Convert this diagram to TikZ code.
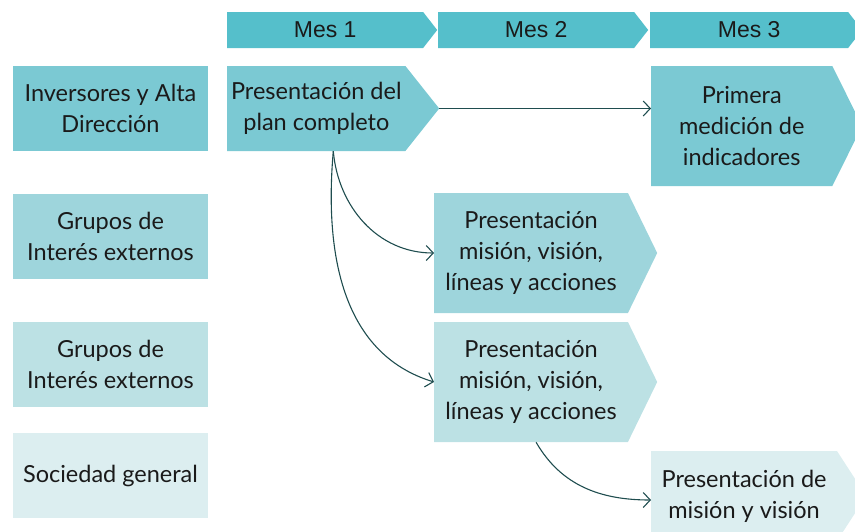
\documentclass[tikz,border=0pt]{standalone}
\usepackage{fontspec}
\setmainfont{Lato}
\newfontfamily\headfont{Liberation Sans}
\usetikzlibrary{arrows.meta, shapes.symbols}

\definecolor{head}{HTML}{55BFCB}
\definecolor{rowa}{HTML}{7BC9D3}
\definecolor{rowb}{HTML}{9ED5DC}
\definecolor{rowc}{HTML}{BCE1E4}
\definecolor{rowd}{HTML}{DCEEF0}
\definecolor{line}{HTML}{1F4D4F}
\definecolor{ink}{HTML}{1A1A1A}

\begin{document}
\begin{tikzpicture}[x=1pt, y=-1pt]
\useasboundingbox (0,0) rectangle (855,531);
\clip (0,0) rectangle (855,531);

\begin{scope}[every node/.style={inner sep=0pt, text=ink, align=center,
                                 font=\fontsize{23.5}{31}\selectfont}]
    % months
    \node (m1) at (227, 30) [anchor=west, shape=signal, signal to=east, signal pointer angle=104,
        fill=head, minimum width=210, minimum height=36, font=\headfont\fontsize{23}{25}\selectfont] {Mes 1};
    \node (m2) at (438, 30) [anchor=west, shape=signal, signal to=east, signal pointer angle=104,
        fill=head, minimum width=210, minimum height=36, font=\headfont\fontsize{23}{25}\selectfont] {Mes 2};
    \node (m3) at (650, 30) [anchor=west, shape=signal, signal to=east, signal pointer angle=104,
        fill=head, minimum width=212, minimum height=36, font=\headfont\fontsize{23}{25}\selectfont] {Mes 3};

    % groups
    \node (inv) at (110.5, 108.5) [shape=rectangle, fill=rowa, minimum width=195, minimum height=85] {Inversores y Alta\\Dirección};
    \node (ext1) at (110.5, 236.5) [shape=rectangle, fill=rowb, minimum width=195, minimum height=85] {Grupos de\\Interés externos};
    \node (ext2) at (110.5, 364.5) [shape=rectangle, fill=rowc, minimum width=195, minimum height=85] {Grupos de\\Interés externos};
    \node (soc) at (110.5, 475.5) [shape=rectangle, fill=rowd, minimum width=195, minimum height=85] {Sociedad general};

    % actions
    \node (plan) at (227, 108.5) [anchor=west, shape=signal, signal to=east, signal pointer angle=103,
        fill=rowa, minimum width=212, minimum height=85] {Presentación del\\plan completo};
    \node (prim) at (651, 126) [anchor=west, shape=signal, signal to=east, signal pointer angle=127,
        fill=rowa, minimum width=211, minimum height=120] {Primera\\medición de\\indicadores};
    \node (mis1) at (434, 253) [anchor=west, shape=signal, signal to=east, signal pointer angle=128,
        fill=rowb, minimum width=223, minimum height=120] {Presentación\\misión, visión,\\líneas y acciones};
    \node (mis2) at (434, 382) [anchor=west, shape=signal, signal to=east, signal pointer angle=128,
        fill=rowc, minimum width=223, minimum height=120] {Presentación\\misión, visión,\\líneas y acciones};
    \node (mis3) at (651, 496) [anchor=west, shape=signal, signal to=east, signal pointer angle=114,
        fill=rowd, minimum width=215, minimum height=90] {Presentación de\\misión y visión};
\end{scope}

\begin{scope}[>={Straight Barb[length=7pt, width=15pt]},
              every path/.style={draw=line, line width=1.1pt}]
    \draw [->] (plan.east) -- (plan.east -| prim.west);
    \draw [->] ([xshift=17pt]plan.south) to[out=-85, in=180] (mis1.west);
    \draw [->] ([xshift=17pt]plan.south) to[out=-95, in=163] (mis2.west);
    \draw [->] ([xshift=5pt]mis2.south) to[out=-60, in=180] ([yshift=-4pt]mis3.west);
\end{scope}
\end{tikzpicture}
\end{document}
